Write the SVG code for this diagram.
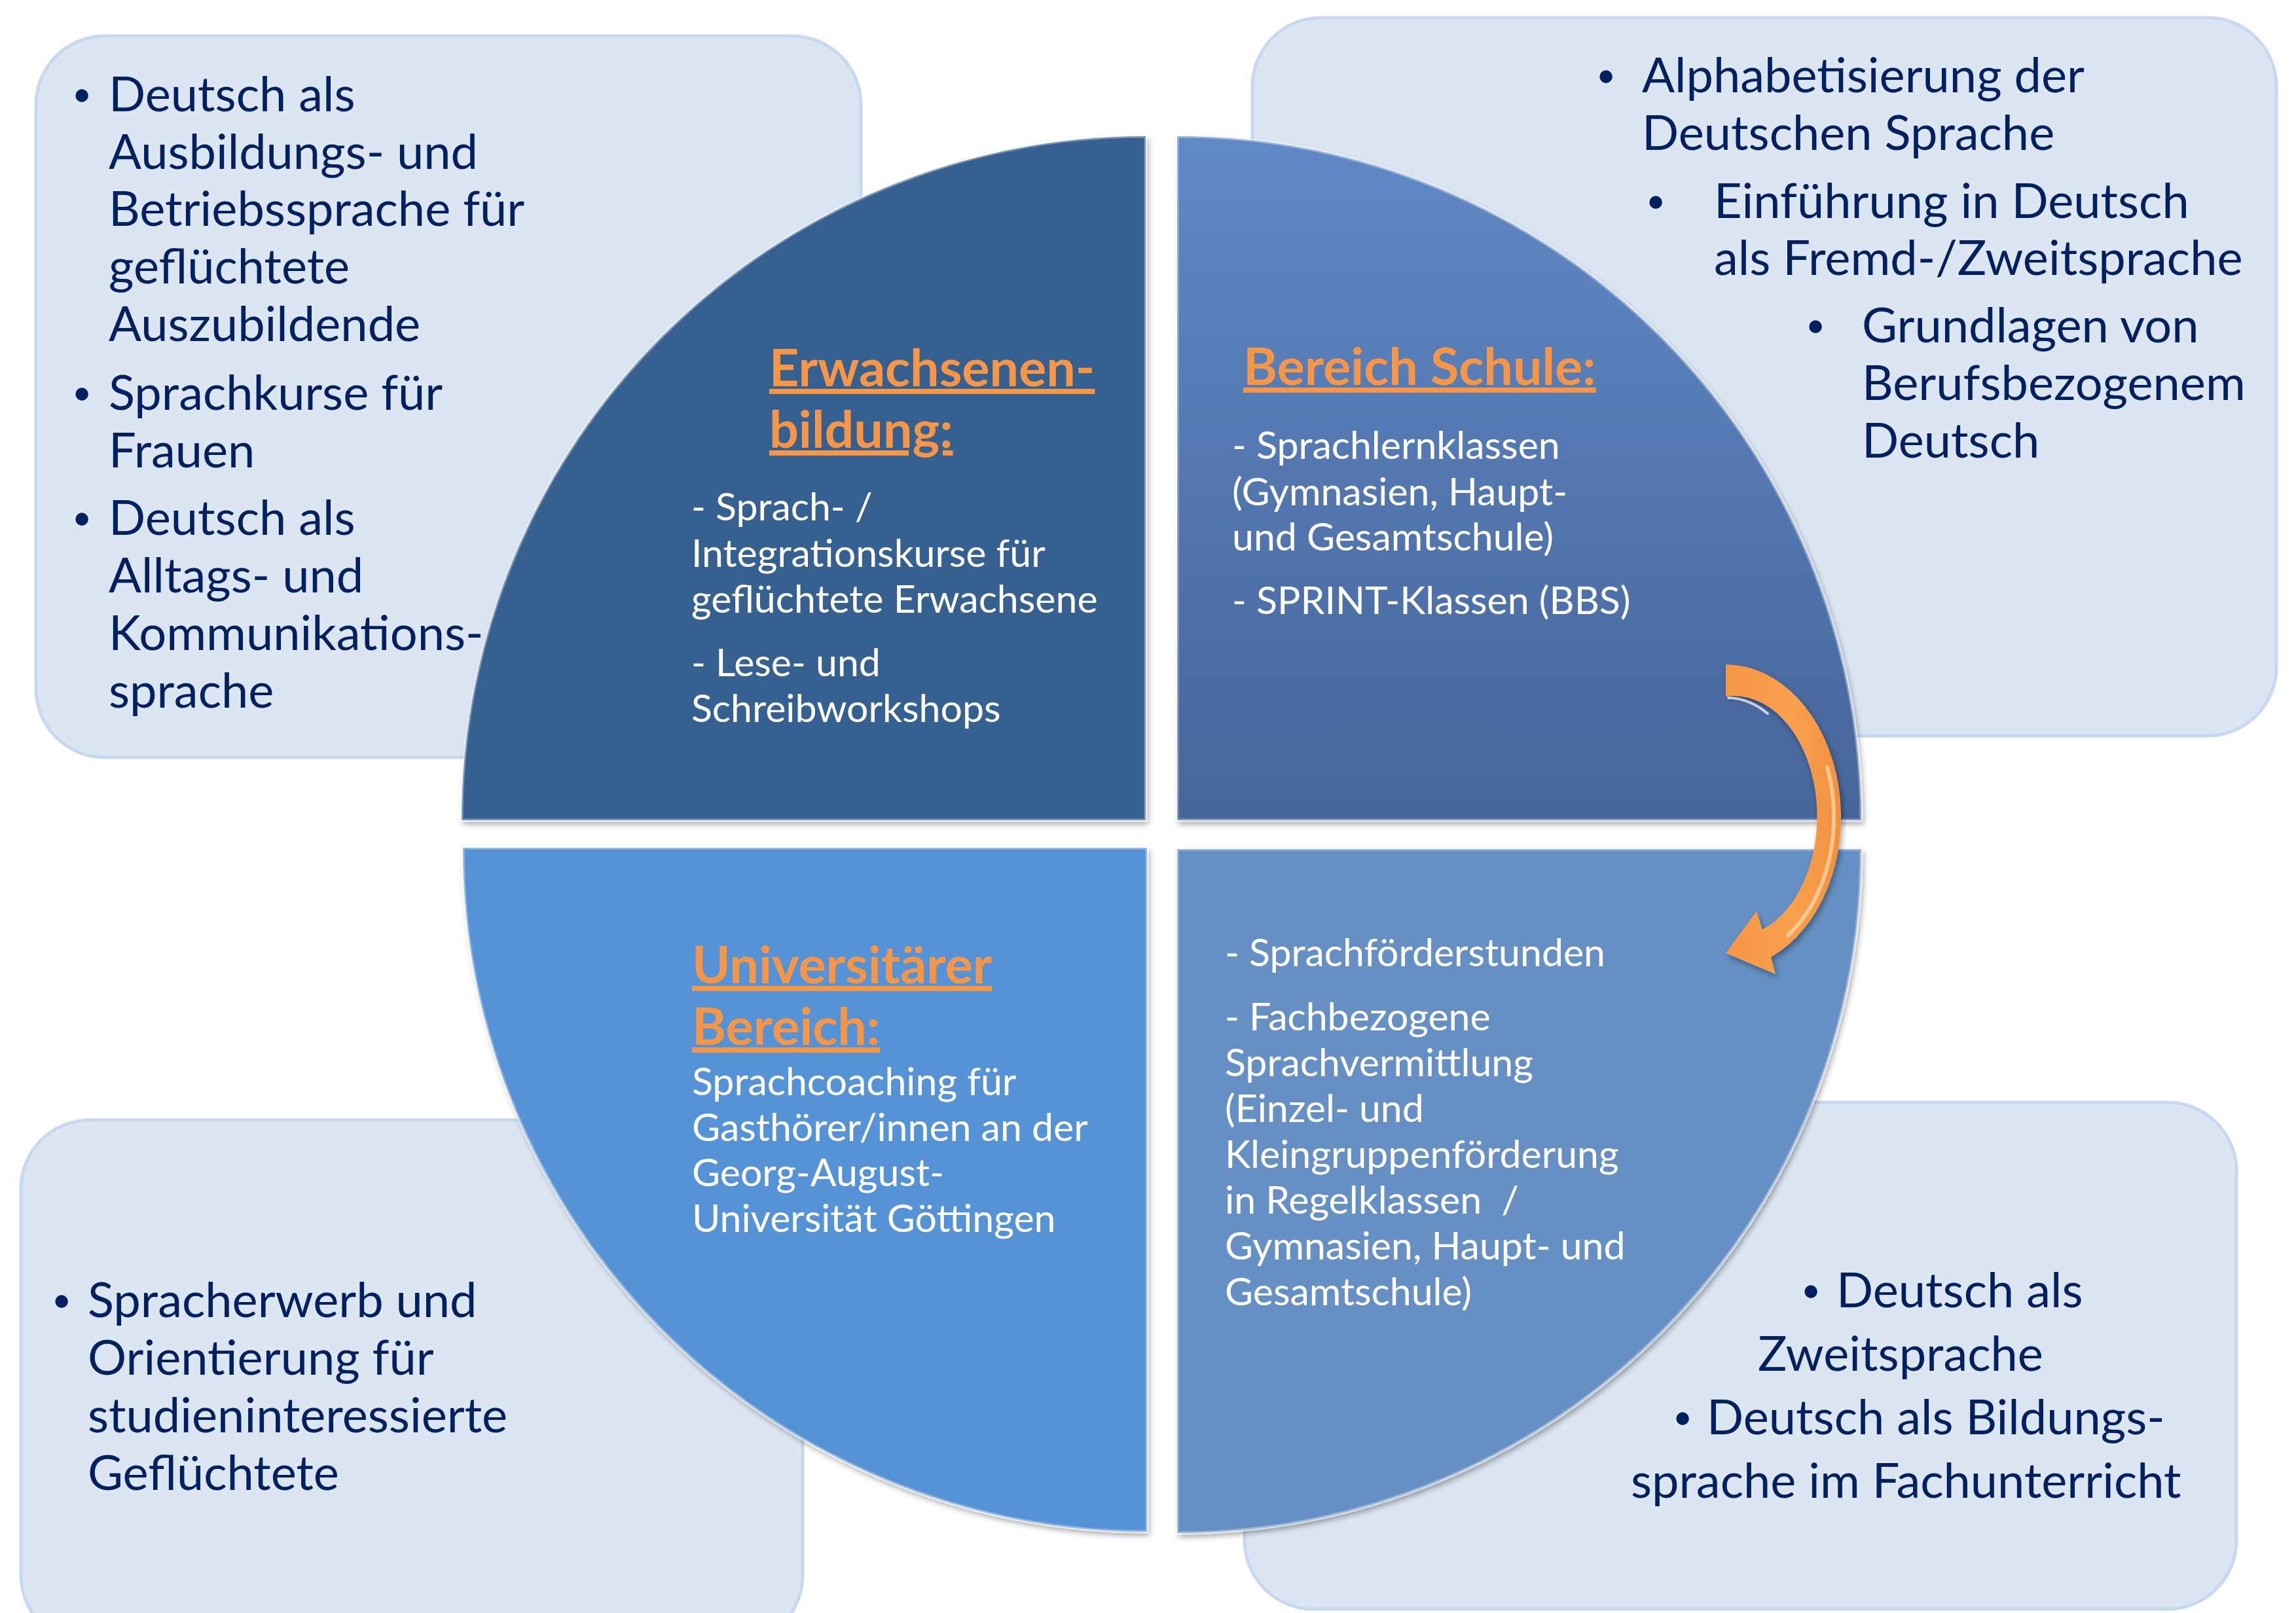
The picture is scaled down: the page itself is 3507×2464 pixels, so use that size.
<svg xmlns="http://www.w3.org/2000/svg" width="3507" height="2464" viewBox="0 0 3507 2464">
<style>
.box{fill:#dce6f2;stroke:#c6d9f1;stroke-width:5}
.bt{font-family:Lato,"Liberation Sans",sans-serif;font-size:74px;fill:#002060}
.bul{font-family:"Liberation Sans",Arial,sans-serif;font-size:72px;fill:#002060;text-anchor:middle}
.qt{font-family:Lato,"Liberation Sans",sans-serif;font-size:59px;fill:#ffffff}
.hd{font-family:Lato,"Liberation Sans",sans-serif;font-weight:bold;font-size:79px;fill:#f79646;text-decoration:underline}
.q{stroke:#ffffff;stroke-opacity:0.35;stroke-width:5;filter:url(#sh)}
</style>
<defs>
<filter id="sh" x="-5%" y="-5%" width="110%" height="110%">
<feDropShadow dx="3" dy="5" stdDeviation="4" flood-color="#000000" flood-opacity="0.35"/>
</filter>
<linearGradient id="gTR" x1="0" y1="0" x2="0" y2="1">
<stop offset="0" stop-color="#6189c6"/>
<stop offset="1" stop-color="#46659a"/>
</linearGradient>
<linearGradient id="gArr" x1="0" y1="0" x2="1" y2="0">
<stop offset="0" stop-color="#f79646"/>
<stop offset="0.6" stop-color="#f8a04e"/>
<stop offset="1" stop-color="#f0913f"/>
</linearGradient>
</defs>
<rect width="3507" height="2464" fill="#ffffff"/>

<g id="box-tl">
<rect class="box" x="55" y="55" width="1260" height="1102" rx="105" ry="105"/>
<text class="bul" x="125" y="170">•</text>
<text class="bt" x="166" y="170">Deutsch als</text>
<text class="bt" x="166" y="258">Ausbildungs- und</text>
<text class="bt" x="166" y="345">Betriebssprache für</text>
<text class="bt" x="166" y="433">geflüchtete</text>
<text class="bt" x="166" y="521">Auszubildende</text>
<text class="bul" x="125" y="626">•</text>
<text class="bt" x="166" y="626">Sprachkurse für</text>
<text class="bt" x="166" y="714">Frauen</text>
<text class="bul" x="125" y="817">•</text>
<text class="bt" x="166" y="817">Deutsch als</text>
<text class="bt" x="166" y="905">Alltags- und</text>
<text class="bt" x="166" y="993">Kommunikations-</text>
<text class="bt" x="166" y="1081">sprache</text>
</g>

<g id="box-tr">
<rect class="box" x="1913" y="27" width="1564" height="1097" rx="105" ry="105"/>
<text class="bul" x="2453" y="141">•</text>
<text class="bt" x="2508" y="141">Alphabetisierung der</text>
<text class="bt" x="2508" y="229">Deutschen Sprache</text>
<text class="bul" x="2529" y="333">•</text>
<text class="bt" x="2618" y="333">Einführung in Deutsch</text>
<text class="bt" x="2618" y="420">als Fremd-/Zweitsprache</text>
<text class="bul" x="2773" y="523">•</text>
<text class="bt" x="2844" y="523">Grundlagen von</text>
<text class="bt" x="2844" y="611">Berufsbezogenem</text>
<text class="bt" x="2844" y="699">Deutsch</text>
</g>

<g id="box-bl">
<rect class="box" x="32" y="1711" width="1194" height="800" rx="105" ry="105"/>
<text class="bul" x="94" y="2012">•</text>
<text class="bt" x="134" y="2012">Spracherwerb und</text>
<text class="bt" x="134" y="2100">Orientierung für</text>
<text class="bt" x="134" y="2188">studieninteressierte</text>
<text class="bt" x="134" y="2276">Geflüchtete</text>
</g>

<g id="box-br">
<rect class="box" x="1901" y="1684" width="1515" height="774" rx="105" ry="105"/>
<text class="bul" x="2766" y="1997">•</text>
<text class="bt" x="2805" y="1997">Deutsch als</text>
<text class="bt" x="2685" y="2094">Zweitsprache</text>
<text class="bul" x="2570" y="2191">•</text>
<text class="bt" x="2607" y="2191">Deutsch als Bildungs-</text>
<text class="bt" x="2491" y="2288">sprache im Fachunterricht</text>
</g>

<g id="q-erwachsenenbildung">
<path class="q" d="M1750,1253 L705,1253 A1045,1045 0 0 1 1750,208 Z" fill="#36608f"/>
<text class="hd" x="1175" y="590">Erwachsenen-</text>
<text class="hd" x="1175" y="684">bildung:</text>
<text class="qt" x="1056" y="795">- Sprach- /</text>
<text class="qt" x="1056" y="866">Integrationskurse für</text>
<text class="qt" x="1056" y="936">geflüchtete Erwachsene</text>
<text class="qt" x="1056" y="1033">- Lese- und</text>
<text class="qt" x="1056" y="1103">Schreibworkshops</text>
</g>

<g id="q-schule">
<path class="q" d="M1798,1253 L1798,208 A1045,1045 0 0 1 2843,1253 Z" fill="url(#gTR)"/>
<text class="hd" x="1899" y="588">Bereich Schule:</text>
<text class="qt" x="1882" y="701">- Sprachlernklassen</text>
<text class="qt" x="1882" y="772">(Gymnasien, Haupt-</text>
<text class="qt" x="1882" y="841">und Gesamtschule)</text>
<text class="qt" x="1882" y="938">- SPRINT-Klassen (BBS)</text>
</g>

<g id="q-universitaet">
<path class="q" d="M1752,1295 L707,1295 A1045,1045 0 0 0 1752,2340 Z" fill="#5592d6"/>
<text class="hd" x="1057" y="1502">Universitärer</text>
<text class="hd" x="1057" y="1596">Bereich:</text>
<text class="qt" x="1057" y="1673">Sprachcoaching für</text>
<text class="qt" x="1057" y="1743">Gasthörer/innen an der</text>
<text class="qt" x="1057" y="1812">Georg-August-</text>
<text class="qt" x="1057" y="1882">Universität Göttingen</text>
</g>

<g id="q-sprachfoerderung">
<path class="q" d="M1798,1297 L2843,1297 A1045,1045 0 0 1 1798,2342 Z" fill="#6690c4"/>
<text class="qt" x="1871" y="1476">- Sprachförderstunden</text>
<text class="qt" x="1871" y="1574">- Fachbezogene</text>
<text class="qt" x="1871" y="1644">Sprachvermittlung</text>
<text class="qt" x="1871" y="1714">(Einzel- und</text>
<text class="qt" x="1871" y="1784">Kleingruppenförderung</text>
<text class="qt" x="1871" y="1854" xml:space="preserve">in Regelklassen  /</text>
<text class="qt" x="1871" y="1924">Gymnasien, Haupt- und</text>
<text class="qt" x="1871" y="1994">Gesamtschule)</text>
</g>

<g id="connectors">
<path d="M2636,1015 A177,233 0 0 1 2705,1462 L2712,1488 L2636,1456 L2683,1392 L2692,1420 A127,184 0 0 0 2636,1064 Z" fill="url(#gArr)" filter="url(#sh)"/>
<path d="M2791,1172 A165,221 0 0 1 2731,1429" fill="none" stroke="#ffe8c0" stroke-width="6" stroke-opacity="0.6" stroke-linecap="round"/>
<path d="M2640,1066 A125,182 0 0 1 2700,1090" fill="none" stroke="#ffffff" stroke-width="4" stroke-opacity="0.7" stroke-linecap="round"/>
</g>
</svg>
